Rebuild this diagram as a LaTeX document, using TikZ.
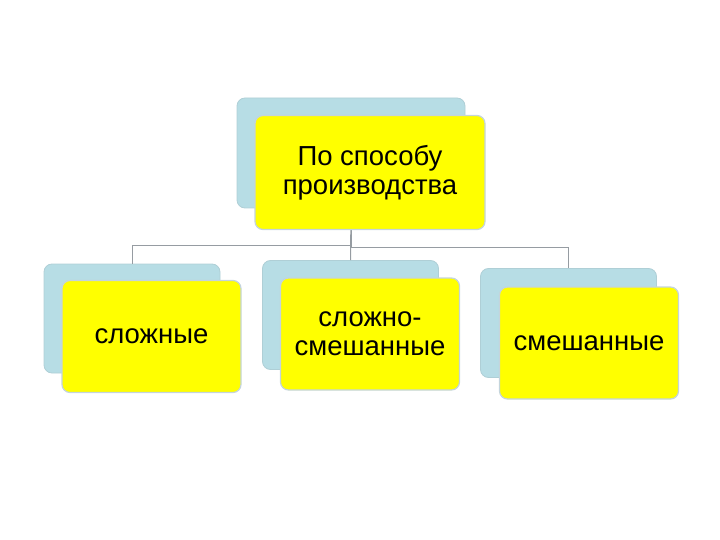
\documentclass[tikz,border=0pt]{standalone}
\usepackage{fontspec}
\setmainfont{Liberation Sans}
\definecolor{backblue}{RGB}{183,221,229}
\definecolor{boxyellow}{RGB}{255,255,0}
\definecolor{edgegray}{RGB}{196,212,220}
\definecolor{linegray}{RGB}{150,156,162}
\tikzset{
  backbox/.style={fill=backblue, draw=backblue!85!gray, line width=0.8pt,
    rounded corners=8pt, minimum width=176pt, minimum height=109pt},
  frontbox/.style={fill=boxyellow, draw=edgegray, line width=1.2pt,
    rounded corners=8pt, minimum width=179pt, minimum height=112pt,
    align=center, font=\fontsize{27.5}{29}\selectfont},
  connector/.style={draw=linegray, line width=1pt}
}
\begin{document}
\begin{tikzpicture}[x=1pt,y=-1pt]
   \useasboundingbox (0,0) rectangle (720,540);
   % back boxes
   \node [backbox, minimum width=228pt, minimum height=110pt] (topback) at (351,153) {};
   \node [backbox] (lback) at (132,318.5) {};
   \node [backbox] (mback) at (350.5,315) {};
   \node [backbox] (rback) at (568.5,323) {};
   % connectors
   \draw [connector] (topback.south) -- ++(0,37) -| (lback.north);
   \draw [connector] (topback.south) -- (mback.north);
   \draw [connector] (topback.south) -- ++(0,39) -| (rback.north);
   % front boxes
   \node [frontbox, minimum width=230pt, minimum height=114pt] (top) at (370,172.5) {По способу\\производства};
   \node [frontbox] (complex) at (151.5,336.5) {сложные};
   \node [frontbox] (cmixed) at (370,334) {сложно-\\смешанные};
   \node [frontbox] (mixed) at (589,343) {смешанные};
\end{tikzpicture}
\end{document}
